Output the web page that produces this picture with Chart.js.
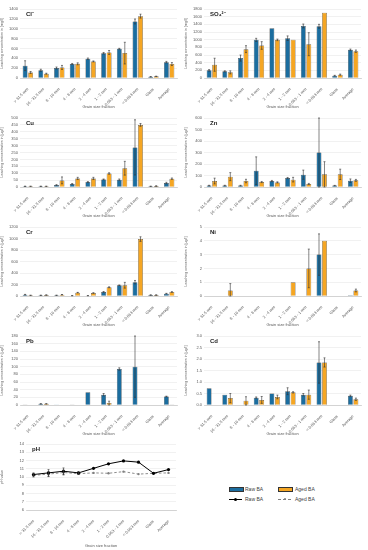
<!DOCTYPE html>
<html>
<head>
<meta charset="utf-8">
<script src="https://cdn.jsdelivr.net/npm/chart.js@4"></script>
<style>
  body { margin: 0; background: #fff; font-family: "Liberation Sans", Arial, sans-serif; }
  #page { position: relative; width: 368px; height: 550px; overflow: hidden; }
  #page canvas { position: absolute; }
  .lg { position: absolute; font-size: 5px; color: #404040; line-height: 6px; }
  .sw { position: absolute; }
</style>
</head>
<body>
<div id="page">
  <canvas id="cl" width="184" height="109" style="left:0;top:0"></canvas>
  <canvas id="so4" width="184" height="109" style="left:184px;top:0"></canvas>
  <canvas id="cu" width="184" height="109" style="left:0;top:109px"></canvas>
  <canvas id="zn" width="184" height="109" style="left:184px;top:109px"></canvas>
  <canvas id="cr" width="184" height="109" style="left:0;top:218px"></canvas>
  <canvas id="ni" width="184" height="109" style="left:184px;top:218px"></canvas>
  <canvas id="pb" width="184" height="109" style="left:0;top:327px"></canvas>
  <canvas id="cd" width="184" height="109" style="left:184px;top:327px"></canvas>
  <canvas id="ph" width="184" height="112" style="left:0;top:436px"></canvas>

  <div class="sw" style="left:229px;top:487px;width:13px;height:3px;background:#1b6d9f;border:0.5px solid #333"></div>
  <div class="lg" style="left:245px;top:485.5px">Raw BA</div>
  <div class="sw" style="left:278px;top:487px;width:13px;height:3px;background:#f5a623;border:0.5px solid #333"></div>
  <div class="lg" style="left:295px;top:485.5px">Aged BA</div>
  <div class="sw" style="left:229px;top:498.5px;width:13px;height:0;border-top:1px solid #000"></div>
  <div class="sw" style="left:234px;top:497.5px;width:3px;height:3px;border-radius:50%;background:#000"></div>
  <div class="lg" style="left:245px;top:496px">Raw BA</div>
  <div class="sw" style="left:278px;top:498.5px;width:13px;height:0;border-top:1px dashed #808080"></div>
  <div class="sw" style="left:283.5px;top:497.5px;width:2.5px;height:2.5px;border-radius:50%;background:#808080"></div>
  <div class="lg" style="left:295px;top:496px">Aged BA</div>
</div>
<script>
const categories = ['> 31.5 mm', '16 - 31.5 mm', '8 - 16 mm', '4 - 8 mm', '2 - 4 mm', '1 - 2 mm', '0.063 - 1 mm', '< 0.063 mm', 'Glass', 'Average'];

// Cl- [mg/l]
const clRaw = [250, 158, 203, 285, 390, 503, 592, 1147, 25, 322];
const clAged = [112, 87, 215, 288, 336, 518, 505, 1255, 33, 283];
const clRawErr = [100, 20, 20, 10, 15, 15, 10, 50, 5, 15];
const clAgedErr = [20, 10, 40, 20, 10, 40, 220, 40, 5, 30];

// SO4 2- [mg/l]
const so4Raw = [200, 173, 519, 995, 1298, 1038, 1358, 1350, 60, 735];
const so4Aged = [346, 147, 753, 848, 995, 995, 882, 1704, 87, 700];
const so4RawErr = [20, 15, 80, 40, 0, 60, 50, 50, 10, 20];
const so4AgedErr = [170, 40, 90, 100, 20, 0, 300, 0, 15, 30];

// Cu [µg/l]
const cuRaw = [5, 5, 14, 22, 36, 55, 53, 287, 5, 29];
const cuAged = [5, 5, 48, 62, 62, 98, 136, 450, 7, 60];
const cuRawErr = [1, 1, 3, 3, 3, 3, 5, 200, 1, 5];
const cuAgedErr = [1, 1, 25, 8, 8, 5, 50, 10, 2, 5];

// Zn [µg/l]
const znRaw = [12, 12, 12, 142, 52, 78, 107, 300, 12, 55];
const znAged = [52, 90, 52, 43, 40, 64, 26, 110, 110, 58];
const znRawErr = [3, 3, 3, 120, 5, 5, 40, 330, 2, 15];
const znAgedErr = [25, 35, 15, 5, 5, 20, 5, 110, 45, 8];

// Cr [µg/l]
const crRaw = [23, 12, 12, 6, 6, 70, 187, 240, 17, 41];
const crAged = [12, 17, 23, 58, 52, 152, 187, 990, 17, 70];
const crRawErr = [5, 3, 3, 2, 2, 8, 5, 30, 3, 5];
const crAgedErr = [2, 3, 3, 5, 5, 8, 50, 40, 3, 5];

// Ni [µg/l]
const niRaw = [null, null, null, null, null, null, null, 3.0, null, 0.05];
const niAged = [null, 0.4, null, null, null, 1.0, 2.0, 4.0, null, 0.4];
const niRawErr = [0, 0, 0, 0, 0, 0, 0, 1.5, 0, 0];
const niAgedErr = [0, 0.5, 0, 0, 0, 0, 1.4, 0, 0, 0.1];

// Pb [µg/l]
const pbRaw = [1, 3, 1.5, 1, 33, 27, 94, 100, null, 22];
const pbAged = [null, 3, null, null, null, 5, null, null, null, 1];
const pbRawErr = [0, 0.5, 0, 0, 0, 3, 3, 80, 0, 1];
const pbAgedErr = [0, 0.5, 0, 0, 0, 5, 0, 0, 0, 0];

// Cd [µg/l]
const cdRaw = [0.73, 0.45, null, 0.32, 0.5, 0.6, 0.45, 1.85, null, 0.4];
const cdAged = [null, 0.3, 0.18, 0.22, 0.35, 0.55, 0.45, 1.85, null, 0.25];
const cdRawErr = [0, 0, 0, 0.03, 0, 0.15, 0.05, 0.9, 0, 0.03];
const cdAgedErr = [0, 0.2, 0.18, 0.15, 0.08, 0.03, 0.2, 0.2, 0, 0.05];

// pH
const phRaw = [10.3, 10.5, 10.7, 10.5, 11.05, 11.6, 11.95, 11.8, 10.45, 10.9];
const phAged = [10.2, 10.35, 10.55, 10.4, 10.5, 10.45, 10.65, 10.35, 10.45, 10.5];
const phRawErr = [0.2, 0.4, 0.4, 0.15, 0, 0, 0, 0, 0, 0];
const phAgedErr = [0.2, 0.3, 0.3, 0.1, 0, 0, 0, 0, 0, 0];

const blue = '#1b6d9f';
const orange = '#f5a623';
const tickColor = '#595959';
const FONT = 'Liberation Sans';

const errorBars = {
  id: 'errorBars',
  afterDatasetsDraw(chart) {
    const ctx = chart.ctx;
    const y = chart.scales.y;
    chart.data.datasets.forEach((ds, di) => {
      if (!ds.errors) return;
      const meta = chart.getDatasetMeta(di);
      meta.data.forEach((el, i) => {
        const v = ds.data[i], e = ds.errors[i];
        if (v == null || !e) return;
        const top = y.getPixelForValue(Math.min(v + e, y.max));
        const bot = y.getPixelForValue(Math.max(v - e, y.min));
        ctx.save();
        ctx.strokeStyle = '#333';
        ctx.lineWidth = 0.6;
        ctx.beginPath();
        ctx.moveTo(el.x, top); ctx.lineTo(el.x, bot);
        ctx.moveTo(el.x - 1, top); ctx.lineTo(el.x + 1, top);
        ctx.moveTo(el.x - 1, bot); ctx.lineTo(el.x + 1, bot);
        ctx.stroke();
        ctx.restore();
      });
    });
  }
};

const panelLabel = {
  id: 'panelLabel',
  afterDraw(chart, args, opts) {
    const ctx = chart.ctx;
    ctx.save();
    ctx.fillStyle = '#222';
    ctx.font = 'bold 6px "' + FONT + '"';
    ctx.textBaseline = 'middle';
    ctx.fillText(opts.text, chart.chartArea.left + 6, chart.chartArea.top + 5);
    ctx.restore();
  }
};

function scales(yTitle, range, step, decimals, leftW, xH) {
  return {
    x: {
      grid: { display: false },
      border: { color: '#bfbfbf', width: 0.6 },
      ticks: { color: tickColor, font: { family: FONT, size: 4 }, minRotation: 45, maxRotation: 45, padding: 1, autoSkip: false },
      title: { display: true, text: 'Grain size fraction', color: tickColor, font: { family: FONT, size: 4 }, padding: { top: 0, bottom: 0 } },
      afterFit(s) { s.height = xH; }
    },
    y: {
      min: range[0], max: range[1],
      grid: { color: '#e3e3e3', lineWidth: 0.5, drawTicks: false },
      border: { display: false },
      ticks: {
        stepSize: step, autoSkip: false, color: tickColor, font: { family: FONT, size: 4 }, padding: 2,
        callback: v => Number(v).toFixed(decimals)
      },
      title: { display: true, text: yTitle, color: tickColor, font: { family: FONT, size: 3.6 }, padding: { top: 0, bottom: 1 } },
      afterFit(s) { s.width = leftW; }
    }
  };
}

function makeBar(id, label, unit, max, step, decimals, raw, aged, rawErr, agedErr) {
  new Chart(document.getElementById(id), {
    type: 'bar',
    data: {
      labels: categories,
      datasets: [
        { label: 'Raw BA', data: raw, errors: rawErr, backgroundColor: blue, borderColor: '#2b2b2b', borderWidth: 0.5 },
        { label: 'Aged BA', data: aged, errors: agedErr, backgroundColor: orange, borderColor: '#2b2b2b', borderWidth: 0.5 }
      ]
    },
    options: {
      responsive: false,
      animation: false,
      categoryPercentage: 0.7,
      barPercentage: 0.88,
      layout: { padding: { top: 9, right: 7, left: 0, bottom: 0 } },
      plugins: { legend: { display: false }, tooltip: { enabled: false }, panelLabel: { text: label } },
      scales: scales('Leaching concentration in [' + unit + ']', [0, max], step, decimals, 20, 31)
    },
    plugins: [errorBars, panelLabel]
  });
}

makeBar('cl', 'Cl\u207B', 'mg/l', 1400, 200, 0, clRaw, clAged, clRawErr, clAgedErr);
makeBar('so4', 'SO\u2084\u00B2\u207B', 'mg/l', 1800, 200, 0, so4Raw, so4Aged, so4RawErr, so4AgedErr);
makeBar('cu', 'Cu', 'µg/l', 500, 50, 0, cuRaw, cuAged, cuRawErr, cuAgedErr);
makeBar('zn', 'Zn', 'µg/l', 600, 100, 0, znRaw, znAged, znRawErr, znAgedErr);
makeBar('cr', 'Cr', 'µg/l', 1200, 200, 0, crRaw, crAged, crRawErr, crAgedErr);
makeBar('ni', 'Ni', 'µg/l', 5, 1, 0, niRaw, niAged, niRawErr, niAgedErr);
makeBar('pb', 'Pb', 'µg/l', 180, 20, 0, pbRaw, pbAged, pbRawErr, pbAgedErr);
makeBar('cd', 'Cd', 'µg/l', 3.0, 0.5, 1, cdRaw, cdAged, cdRawErr, cdAgedErr);

const phScales = scales('pH value', [6, 14], 1, 0, 26, 38);
phScales.x.offset = true;
new Chart(document.getElementById('ph'), {
  type: 'line',
  data: {
    labels: categories,
    datasets: [
      { label: 'Raw BA', data: phRaw, errors: phRawErr, borderColor: '#000', backgroundColor: '#000', borderWidth: 1, pointRadius: 1.6, pointBorderWidth: 0 },
      { label: 'Aged BA', data: phAged, errors: phAgedErr, borderColor: '#808080', backgroundColor: '#808080', borderWidth: 0.9, borderDash: [2.5, 2], pointRadius: 1.2, pointBorderWidth: 0 }
    ]
  },
  options: {
    responsive: false,
    animation: false,
    layout: { padding: { top: 8, right: 8, left: 0, bottom: 0 } },
    plugins: { legend: { display: false }, tooltip: { enabled: false }, panelLabel: { text: 'pH' } },
    scales: phScales
  },
  plugins: [errorBars, panelLabel]
});
</script>
</body>
</html>
